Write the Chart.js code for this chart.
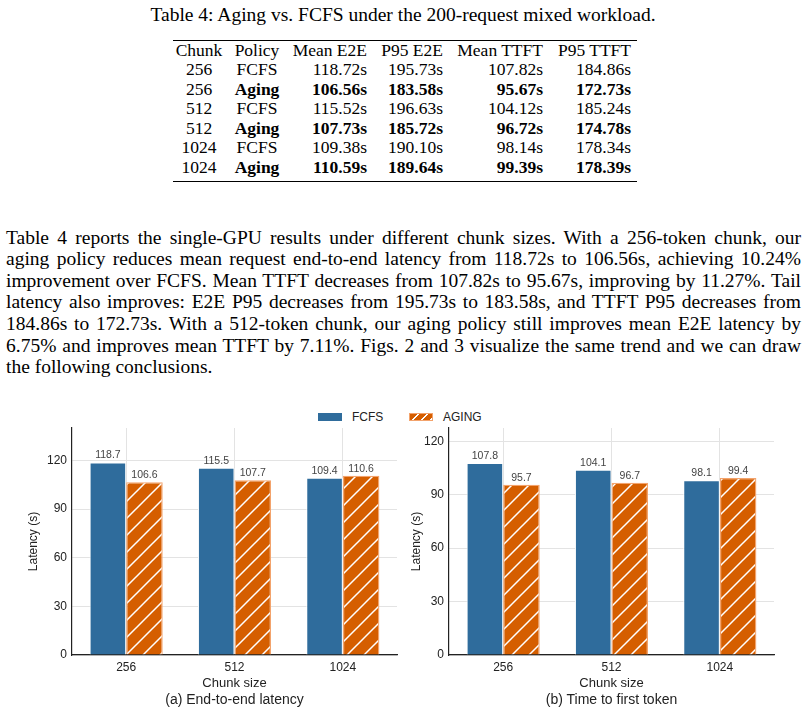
<!DOCTYPE html>
<html>
<head>
<meta charset="utf-8">
<script src="https://cdn.jsdelivr.net/npm/chart.js@4.4.1/dist/chart.umd.min.js"></script>
<style>
  body { margin: 0; background: #fff; }
  #page { position: relative; width: 806px; height: 713px; overflow: hidden; background: #fff; }
  .serif { font-family: "Liberation Serif", "Times New Roman", serif; color: #000; }
  .abs { position: absolute; white-space: nowrap; }
  .rule { position: absolute; background: #000; }
  .para { position: absolute; left: 6px; width: 795px; height: 21.6px; line-height: 21.6px;
          font-size: 19.5px; text-align: justify; text-align-last: justify; white-space: nowrap;
          transform-origin: 0 50%; }
  .para.last { text-align-last: left; }
  .sans { font-family: "Liberation Sans", Arial, sans-serif; color: #222; }
  canvas { position: absolute; }
</style>
</head>
<body>
<div id="page">
  <div class="abs serif" style="left:0;width:806px;top:4px;font-size:19.5px;line-height:22px;text-align:center;">Table 4: Aging vs. FCFS under the 200-request mixed workload.</div>
  <div id="table"></div>
  <div id="paragraph" class="serif"></div>

  <!-- shared legend -->
  <div class="abs" style="left:318px;top:413px;width:24px;height:8px;background:#2f6c9c;"></div>
  <div class="abs sans" style="left:352px;top:410px;font-size:12px;line-height:14px;">FCFS</div>
  <div class="abs" style="left:409px;top:413px;width:22px;height:6px;border:1px solid #f3a36c;
       background:repeating-linear-gradient(135deg,#d55e00 0,#d55e00 5px,#fff 5px,#fff 6.4px);"></div>
  <div class="abs sans" style="left:443px;top:410px;font-size:12px;line-height:14px;">AGING</div>

  <canvas id="chartE2E" width="403" height="271" style="left:0;top:424px;"></canvas>
  <canvas id="chartTTFT" width="403" height="271" style="left:403px;top:424px;"></canvas>

  <div class="abs sans" style="left:72px;width:325px;top:691px;font-size:14px;line-height:16px;text-align:center;">(a) End-to-end latency</div>
  <div class="abs sans" style="left:449px;width:325px;top:691px;font-size:14px;line-height:16px;text-align:center;">(b) Time to first token</div>
</div>

<script>
var chunkSizes = ['256', '512', '1024'];
var policies = ['FCFS', 'Aging'];

var fcfsMeanE2E = [118.72, 115.52, 109.38];
var agingMeanE2E = [106.56, 107.73, 110.59];
var fcfsP95E2E = [195.73, 196.63, 190.10];
var agingP95E2E = [183.58, 185.72, 189.64];
var fcfsMeanTTFT = [107.82, 104.12, 98.14];
var agingMeanTTFT = [95.67, 96.72, 99.39];
var fcfsP95TTFT = [184.86, 185.24, 178.34];
var agingP95TTFT = [172.73, 174.78, 178.39];

var tableHeaders = ['Chunk', 'Policy', 'Mean E2E', 'P95 E2E', 'Mean TTFT', 'P95 TTFT'];
var yTicks = [0, 30, 60, 90, 120];

var paragraphLines = [
  'Table 4 reports the single-GPU results under different chunk sizes.  With a 256-token chunk, our',
  'aging policy reduces mean request end-to-end latency from 118.72s to 106.56s, achieving 10.24%',
  'improvement over FCFS. Mean TTFT decreases from 107.82s to 95.67s, improving by 11.27%. Tail',
  'latency also improves: E2E P95 decreases from 195.73s to 183.58s, and TTFT P95 decreases from',
  '184.86s to 172.73s. With a 512-token chunk, our aging policy still improves mean E2E latency by',
  '6.75% and improves mean TTFT by 7.11%. Figs. 2 and 3 visualize the same trend and we can draw',
  'the following conclusions.'
];

var FCFS_BLUE = '#2f6c9c';
var AGING_ORANGE = '#d55e00';

// ---- table ----
function buildTable() {
  var page = document.getElementById('table');
  var html = '';
  // column anchors: centre for first two, right edge for the rest
  var cols = [
    {x: 199, align: 'center'}, {x: 257, align: 'center'},
    {x: 367, align: 'right'}, {x: 443, align: 'right'},
    {x: 543, align: 'right'}, {x: 631, align: 'right'}
  ];
  function cell(text, col, yc, bold) {
    var left = col.align == 'center' ? col.x - 50 : col.x - 120;
    var w = col.align == 'center' ? 100 : 120;
    return '<div class="abs serif" style="left:' + left + 'px;width:' + w + 'px;top:' + (yc - 10) +
      'px;line-height:20px;font-size:17.5px;text-align:' + col.align + ';' +
      (bold ? 'font-weight:bold;' : '') + '">' + text + '</div>';
  }
  html += '<div class="rule" style="left:173px;width:464px;top:39.5px;height:1.4px;"></div>';
  tableHeaders.forEach(function(h, i) { html += cell(h, cols[i], 49.5, false); });
  var rowY = 69;
  chunkSizes.forEach(function(c, i) {
    var rows = [
      [fcfsMeanE2E[i], fcfsP95E2E[i], fcfsMeanTTFT[i], fcfsP95TTFT[i]],
      [agingMeanE2E[i], agingP95E2E[i], agingMeanTTFT[i], agingP95TTFT[i]]
    ];
    rows.forEach(function(vals, p) {
      var bold = p == 1;
      html += cell(c, cols[0], rowY, false);
      html += cell(policies[p], cols[1], rowY, bold);
      vals.forEach(function(v, k) { html += cell(v.toFixed(2) + 's', cols[k + 2], rowY, bold); });
      rowY += 19.5;
    });
  });
  html += '<div class="rule" style="left:173px;width:464px;top:181px;height:1.4px;"></div>';
  page.innerHTML = html;
}

function buildParagraph() {
  var box = document.getElementById('paragraph');
  paragraphLines.forEach(function(line, i) {
    var div = document.createElement('div');
    div.className = 'para' + (i == paragraphLines.length - 1 ? ' last' : '');
    div.style.top = (226.5 + i * 21.6) + 'px';
    var span = document.createElement('span');
    span.textContent = line;
    div.appendChild(span);
    box.appendChild(div);
    // squeeze a line slightly if it would overflow the text block
    var w = span.getBoundingClientRect().width;
    if (w > 795) div.style.transform = 'scaleX(' + (795 / w) + ')';
    div.textContent = line;
  });
}

buildTable();
buildParagraph();

// ---- charts ----
function makeHatch() {
  var s = 17;
  var c = document.createElement('canvas');
  c.width = s; c.height = s;
  var g = c.getContext('2d');
  g.fillStyle = AGING_ORANGE;
  g.fillRect(0, 0, s, s);
  g.strokeStyle = '#ffffff';
  g.lineWidth = 1.5;
  g.beginPath();
  g.moveTo(-2, s + 2); g.lineTo(s + 2, -2);
  g.moveTo(-2, 2); g.lineTo(2, -2);
  g.moveTo(s - 2, s + 2); g.lineTo(s + 2, s - 2);
  g.stroke();
  return g.createPattern(c, 'repeat');
}

var barLabels = {
  id: 'barLabels',
  afterDatasetsDraw: function(chart) {
    var ctx = chart.ctx;
    ctx.save();
    ctx.font = '10.5px "Liberation Sans", Arial, sans-serif';
    ctx.fillStyle = '#444';
    ctx.textAlign = 'center';
    ctx.textBaseline = 'middle';
    chart.data.datasets.forEach(function(ds, i) {
      chart.getDatasetMeta(i).data.forEach(function(bar, j) {
        ctx.fillText(ds.data[j].toFixed(1), bar.x, bar.y - 7);
      });
    });
    ctx.restore();
  }
};

Chart.defaults.font.family = '"Liberation Sans", Arial, sans-serif';
Chart.defaults.font.size = 12;
Chart.defaults.color = '#222';

function makeChart(id, fcfs, aging, yMax, axisWidth, titlePad, rightPad) {
  var hatch = makeHatch();
  return new Chart(document.getElementById(id).getContext('2d'), {
    type: 'bar',
    data: {
      labels: chunkSizes,
      datasets: [{
        label: 'FCFS',
        data: fcfs,
        backgroundColor: FCFS_BLUE,
        borderColor: '#ffffff',
        borderWidth: 1
      }, {
        label: 'AGING',
        data: aging,
        backgroundColor: hatch,
        borderColor: '#f3a36c',
        borderWidth: 1.3
      }]
    },
    options: {
      responsive: false,
      animation: false,
      layout: { padding: { top: 4, right: rightPad, left: 0, bottom: 0 } },
      datasets: { bar: { barPercentage: 1.0, categoryPercentage: 0.675 } },
      plugins: { legend: { display: false }, tooltip: { enabled: false } },
      scales: {
        x: {
          offset: true,
          grid: { offset: false, color: '#e3e3e3', drawTicks: false },
          border: { color: '#222', width: 1.2 },
          ticks: { padding: 5, color: '#222', font: { size: 12 } },
          title: { display: true, text: 'Chunk size', color: '#222', font: { size: 13 }, padding: { top: 0, bottom: 4 } },
          afterFit: function(s) { s.height = 40; s.paddingLeft = 0; s.paddingRight = 0; }
        },
        y: {
          min: 0,
          max: yMax,
          afterBuildTicks: function(s) {
            s.ticks = yTicks.map(function(v) { return { value: v }; });
          },
          grid: { color: '#e3e3e3', drawTicks: false },
          border: { color: '#222', width: 1.2 },
          ticks: { padding: 5, color: '#222', font: { size: 12 } },
          title: { display: true, text: 'Latency (s)', color: '#222', font: { size: 12 }, padding: { top: titlePad, bottom: 0 } },
          afterFit: function(s) { s.width = axisWidth; s.paddingTop = 0; s.paddingBottom = 0; }
        }
      }
    },
    plugins: [barLabels]
  });
}

makeChart('chartE2E', fcfsMeanE2E, agingMeanE2E, 140, 72, 26, 6);
makeChart('chartTTFT', fcfsMeanTTFT, agingMeanTTFT, 127.5, 46, 6, 32);
</script>
</body>
</html>
